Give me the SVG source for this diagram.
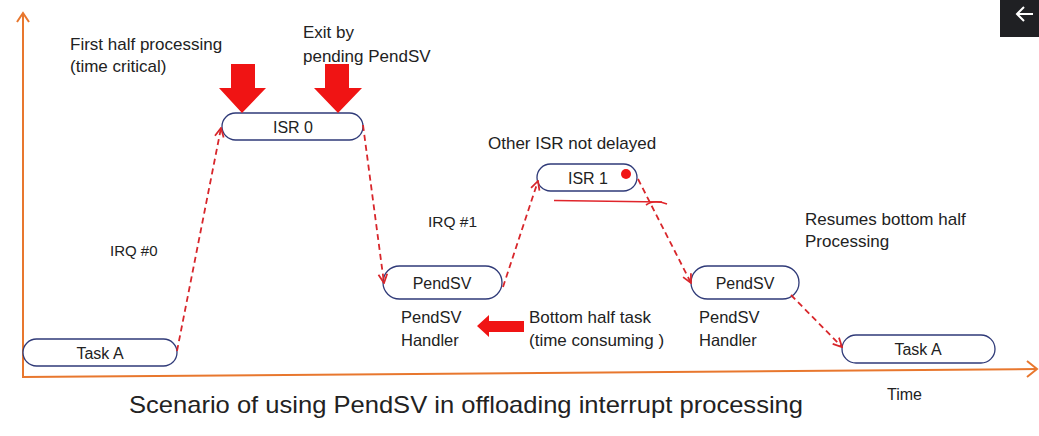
<svg xmlns="http://www.w3.org/2000/svg" width="1039" height="436" viewBox="0 0 1039 436">
<style>
.t{font-family:"Liberation Sans",Arial,sans-serif;fill:#222;font-size:17px}
.n{font-family:"Liberation Sans",Arial,sans-serif;fill:#222;font-size:16px;text-anchor:middle}
.node{fill:#fff;stroke:#2f3a78;stroke-width:1.3}
.dash{fill:none;stroke:#d8262b;stroke-width:1.8;stroke-dasharray:6 4;marker-end:url(#ah)}
.axis{fill:none;stroke:#e8772e;stroke-width:2}
.big{fill:#f01414}
</style>
<defs>
<marker id="ah" viewBox="0 0 10 10" refX="9" refY="5" markerWidth="11" markerHeight="11" markerUnits="userSpaceOnUse" orient="auto">
<path d="M1,1 L9,5 L1,9" fill="none" stroke="#d8262b" stroke-width="1.6"/>
</marker>
</defs>
<rect width="1039" height="436" fill="#fff"/>
<g id="axes">
<path class="axis" d="M23,378 L23,13"/>
<path class="axis" d="M17,22 L23,13 L29,22"/>
<path class="axis" d="M22,377 L1037,369"/>
<path class="axis" d="M1027,361 L1037,369 L1027,377"/>
</g>
<g id="task-a-1"><rect class="node" x="23" y="339" width="154" height="27" rx="13.5"/><text class="n" x="100" y="358.5">Task A</text></g>
<g id="isr-0"><rect class="node" x="222" y="113" width="141" height="27" rx="13.5"/><text class="n" x="293" y="132.5">ISR 0</text></g>
<g id="pendsv-1"><rect class="node" x="383" y="266" width="119" height="33" rx="16.5"/><text class="n" x="442" y="288.5">PendSV</text></g>
<g id="isr-1"><rect class="node" x="537" y="164" width="100" height="27" rx="13.5"/><text class="n" x="588" y="183.5">ISR 1</text><circle cx="626" cy="174" r="5" fill="#f01414"/></g>
<g id="pendsv-2"><rect class="node" x="691" y="266" width="108" height="33" rx="16.5"/><text class="n" x="745" y="288.5">PendSV</text></g>
<g id="task-a-2"><rect class="node" x="842" y="335" width="153" height="28" rx="14"/><text class="n" x="918" y="355">Task A</text></g>
<g id="connectors">
<path class="dash" d="M177,351 L221,128"/>
<path class="dash" d="M363,125 L384,283"/>
<path class="dash" d="M503,287 L538,181"/>
<path class="dash" d="M638,179 L691,283"/>
<path class="dash" d="M791,295 L842,347"/>
</g>
<g id="big-arrows">
<path class="big" d="M231,64 L255,64 L255,88 L266,88 L242,113 L219,88 L231,88 Z"/>
<path class="big" d="M325,64 L349,64 L349,88 L362,88 L338,113 L314,88 L325,88 Z"/>
<path class="big" d="M524,321 L489,321 L489,315 L477,326 L489,337 L489,332 L524,332 Z"/>
</g>
<g id="annotation-line" fill="none" stroke="#e0252b" stroke-width="1.6">
<path d="M554,200.5 L662,202"/>
<path d="M646,205 Q654,199 667,204"/>
</g>
<g id="labels">
<text class="t" x="70" y="50">First half processing</text>
<text class="t" x="70" y="72">(time critical)</text>
<text class="t" x="303" y="38">Exit by</text>
<text class="t" x="303" y="62">pending PendSV</text>
<text class="t" x="110" y="256" style="font-size:15px">IRQ #0</text>
<text class="t" x="428" y="227" style="font-size:15.5px">IRQ #1</text>
<text class="t" x="488" y="149">Other ISR not delayed</text>
<text class="t" x="401" y="323" style="font-size:16.5px">PendSV</text>
<text class="t" x="401" y="346" style="font-size:16.5px">Handler</text>
<text class="t" x="529" y="323">Bottom half task</text>
<text class="t" x="529" y="346">(time consuming )</text>
<text class="t" x="805" y="225">Resumes bottom half</text>
<text class="t" x="805" y="247">Processing</text>
<text class="t" x="699" y="323" style="font-size:16.5px">PendSV</text>
<text class="t" x="699" y="346" style="font-size:16.5px">Handler</text>
<text class="t" x="887" y="400" style="font-size:16px">Time</text>
<text class="t" x="129" y="413" style="font-size:24px" textLength="674" lengthAdjust="spacingAndGlyphs">Scenario of using PendSV in offloading interrupt processing</text>
</g>
<g id="back-button">
<rect x="1000" y="0" width="39" height="37" fill="#1f2023"/>
<path d="M1033,14 L1018,14 M1024,7 L1017,14 L1024,21" fill="none" stroke="#fff" stroke-width="2"/>
</g>
</svg>
